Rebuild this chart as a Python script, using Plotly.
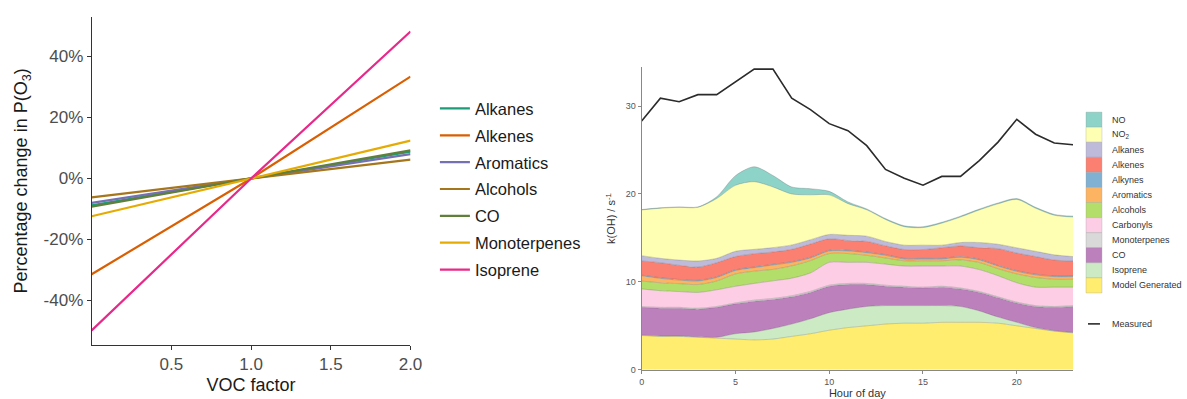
import plotly.graph_objects as go

W, H = 1187, 399
S = 0.991  # layout scale used for pixel placement of panels and legends

# ---------------- Left panel: P(O3) sensitivity to VOC scaling ----------------
voc_factor = [0.0, 1.0, 2.0]
voc_groups = ["Alkanes", "Alkenes", "Aromatics", "Alcohols", "CO", "Monoterpenes", "Isoprene"]
voc_colors = ["#1B9E77", "#D95F02", "#7570B3", "#A6761D", "#5F7F3A", "#E6AB02", "#E7298A"]
pct_alkanes = [-8.8, 0.0, 8.8]
pct_alkenes = [-31.4, 0.0, 33.4]
pct_aromatics = [-8.0, 0.0, 8.0]
pct_alcohols = [-6.2, 0.0, 6.2]
pct_co = [-9.2, 0.0, 9.2]
pct_monoterpenes = [-12.4, 0.0, 12.4]
pct_isoprene = [-49.8, 0.0, 48.2]
pct_series = [pct_alkanes, pct_alkenes, pct_aromatics, pct_alcohols,
              pct_co, pct_monoterpenes, pct_isoprene]
pct_ticks = [-40, -20, 0, 20, 40]
pct_ticktext = ["-40%", "-20%", "0%", "20%", "40%"]
voc_ticks = [0.5, 1.0, 1.5, 2.0]
voc_ticktext = ["0.5", "1.0", "1.5", "2.0"]

# ---------------- Right panel: OH reactivity by hour of day ----------------
hours = list(range(24))
measured = [28.3, 30.9, 30.5, 31.3, 31.3, 32.8, 34.2, 34.2, 30.9, 29.6, 28.0, 27.2,
            25.5, 22.8, 21.8, 21.0, 22.0, 22.0, 23.8, 25.9, 28.5, 26.8, 25.8, 25.6]
species = ["NO", "NO<sub>2</sub>", "Alkanes", "Alkenes", "Alkynes", "Aromatics", "Alcohols",
           "Carbonyls", "Monoterpenes", "CO", "Isoprene", "Model Generated"]
species_colors = ["#8DD3C7", "#FFFFB3", "#BEBADA", "#FB8072", "#80B1D3", "#FDB462",
                  "#B3DE69", "#FCCDE5", "#D9D9D9", "#BC80BD", "#CCEBC5", "#FFED6F"]
k_no = [0.05, 0.05, 0.05, 0.05, 0.2, 1.1, 1.7, 1.3, 0.8, 0.7, 0.4, 0.2,
        0.1, 0.1, 0.1, 0.1, 0.1, 0.1, 0.1, 0.1, 0.1, 0.1, 0.1, 0.1]
k_no2 = [5.2, 5.7, 6.0, 6.1, 6.8, 7.5, 7.7, 6.9, 5.8, 5.1, 4.5, 3.6,
         3.0, 2.5, 2.1, 2.0, 2.5, 2.9, 3.7, 4.6, 5.5, 4.9, 4.5, 4.5]
k_alkanes = [0.6, 0.5, 0.6, 0.7, 0.5, 0.6, 0.5, 0.5, 0.5, 0.5, 0.5, 0.6,
             0.6, 0.5, 0.5, 0.5, 0.3, 0.4, 0.6, 0.5, 0.6, 0.6, 0.6, 0.5]
k_alkenes = [1.6, 1.7, 1.6, 1.5, 1.6, 1.5, 1.5, 1.4, 1.4, 1.5, 1.3, 1.1,
             1.2, 1.0, 1.0, 1.0, 1.2, 1.2, 1.3, 1.9, 2.0, 2.0, 1.8, 1.7]
k_alkynes = [0.08, 0.08, 0.08, 0.08, 0.08, 0.08, 0.08, 0.08, 0.08, 0.08, 0.08, 0.08,
             0.08, 0.08, 0.08, 0.08, 0.08, 0.08, 0.08, 0.08, 0.08, 0.08, 0.08, 0.08]
k_aromatics = [0.6, 0.5, 0.4, 0.4, 0.4, 0.4, 0.4, 0.5, 0.4, 0.3, 0.3, 0.3,
               0.3, 0.3, 0.2, 0.2, 0.2, 0.3, 0.3, 0.3, 0.3, 0.3, 0.3, 0.3]
k_alcohols = [0.9, 0.9, 0.9, 0.9, 1.0, 1.4, 1.4, 1.3, 1.4, 1.4, 1.0, 1.0,
              0.8, 0.7, 0.6, 0.6, 0.6, 0.7, 0.8, 0.8, 1.0, 1.1, 0.9, 0.9]
k_carbonyls = [2.0, 1.9, 1.8, 1.8, 1.9, 1.9, 1.9, 2.0, 2.0, 2.1, 2.6, 2.4,
               2.4, 2.4, 2.3, 2.4, 2.3, 2.5, 2.5, 2.4, 2.2, 2.1, 2.2, 2.1]
k_monoterpenes = [0.1, 0.1, 0.1, 0.1, 0.1, 0.1, 0.12, 0.12, 0.12, 0.12, 0.12, 0.12,
                  0.12, 0.12, 0.1, 0.1, 0.1, 0.1, 0.1, 0.1, 0.1, 0.1, 0.1, 0.1]
k_co = [3.15, 3.15, 3.15, 3.15, 3.4, 3.4, 3.5, 3.3, 3.1, 3.0, 3.0, 2.8,
        2.5, 2.2, 2.1, 2.0, 2.1, 2.0, 2.1, 2.2, 2.2, 2.4, 2.65, 2.95]
k_isoprene = [0.05, 0.05, 0.05, 0.05, 0.1, 0.6, 0.9, 1.2, 1.4, 1.7, 2.0, 2.1,
              2.2, 2.1, 2.0, 2.0, 1.9, 1.8, 1.3, 0.7, 0.4, 0.1, 0.05, 0.05]
k_model = [3.9, 3.8, 3.8, 3.7, 3.6, 3.5, 3.4, 3.5, 3.8, 4.1, 4.5, 4.8,
           5.0, 5.2, 5.3, 5.3, 5.4, 5.4, 5.4, 5.3, 5.0, 4.7, 4.4, 4.2]
k_series = [k_no, k_no2, k_alkanes, k_alkenes, k_alkynes, k_aromatics, k_alcohols,
            k_carbonyls, k_monoterpenes, k_co, k_isoprene, k_model]
hour_ticks = [0, 5, 10, 15, 20]
k_ticks = [0, 10, 20, 30]


def fx(x):
    return x / (W * S)


def fy(y):
    return 1 - y / (H * S)


FONT = "Liberation Sans, Arial, sans-serif"
fig = go.Figure()

# Left panel lines
for i, (name, color, vals) in enumerate(zip(voc_groups, voc_colors, pct_series)):
    fig.add_trace(go.Scatter(
        x=voc_factor, y=vals, mode="lines", name=name,
        line=dict(color=color, width=2.2),
        xaxis="x", yaxis="y", legendgroup=f"g{i}", legend="legend",
    ))

# Right panel stacked areas, bottom layer first
for name, color, vals in reversed(list(zip(species, species_colors, k_series))):
    fig.add_trace(go.Scatter(
        x=hours, y=vals, mode="lines", name=name, stackgroup="k",
        line=dict(color="rgba(90,90,90,0.45)", width=0.6, shape="spline", smoothing=0.8),
        fillcolor=color, xaxis="x2", yaxis="y2", showlegend=False,
    ))

fig.add_trace(go.Scatter(
    x=hours, y=measured, mode="lines", name="Measured",
    line=dict(color="#2b2b2b", width=1.6), xaxis="x2", yaxis="y2", showlegend=False,
))

# Right panel legend: colour swatches and labels
leg_top, leg_step = 120.7, 15.2
shapes = []
annotations = []
for i, (name, color) in enumerate(zip(species, species_colors)):
    yc = leg_top + i * leg_step
    shapes.append(dict(type="rect", xref="paper", yref="paper",
                       x0=fx(1087), x1=fx(1103),
                       y0=fy(yc + leg_step / 2), y1=fy(yc - leg_step / 2),
                       fillcolor=color, line=dict(color="rgba(150,150,150,0.6)", width=0.5)))
    annotations.append(dict(text=name, xref="paper", yref="paper",
                            x=fx(1111), y=fy(yc), xanchor="left", yanchor="middle",
                            showarrow=False, font=dict(family=FONT, size=9, color="#333")))
ym = 326.7
shapes.append(dict(type="line", xref="paper", yref="paper",
                   x0=fx(1089), x1=fx(1101), y0=fy(ym), y1=fy(ym),
                   line=dict(color="#2b2b2b", width=1.6)))
annotations.append(dict(text="Measured", xref="paper", yref="paper",
                        x=fx(1111), y=fy(ym), xanchor="left", yanchor="middle",
                        showarrow=False, font=dict(family=FONT, size=9, color="#333")))

fig.update_layout(
    width=W, height=H,
    margin=dict(l=0, r=0, t=0, b=0),
    paper_bgcolor="white", plot_bgcolor="white",
    font=dict(family=FONT, color="#222"),
    shapes=shapes, annotations=annotations,
    legend=dict(x=fx(433.5), y=fy(92), xanchor="left", yanchor="top",
                font=dict(family=FONT, size=16.5, color="#1a1a1a"),
                tracegroupgap=2.4, bgcolor="rgba(0,0,0,0)"),
    xaxis=dict(domain=[fx(89), fx(409)], range=[0, 2.0],
               tickvals=voc_ticks, ticktext=voc_ticktext,
               showline=True, linecolor="#333", linewidth=1,
               ticks="outside", ticklen=4, tickcolor="#333",
               showgrid=False, zeroline=False, anchor="y",
               tickfont=dict(size=17, color="#4d4d4d"),
               title=dict(text="VOC factor", font=dict(size=18, color="#1a1a1a"), standoff=5)),
    yaxis=dict(domain=[fy(348), fy(17)], range=[-54.6, 53.0],
               tickvals=pct_ticks, ticktext=pct_ticktext,
               showline=True, linecolor="#333", linewidth=1,
               ticks="outside", ticklen=4, tickcolor="#333",
               showgrid=False, zeroline=False, anchor="x",
               tickfont=dict(size=17, color="#4d4d4d"),
               title=dict(text="Percentage change in P(O<sub>3</sub>)",
                          font=dict(size=18, color="#1a1a1a"), standoff=11)),
    xaxis2=dict(domain=[fx(641), fx(1074)], range=[0, 23],
                tickvals=hour_ticks,
                showline=True, linecolor="#888", linewidth=1,
                ticks="outside", ticklen=3, tickcolor="#888",
                showgrid=False, zeroline=False, anchor="y2",
                tickfont=dict(size=9, color="#555"),
                title=dict(text="Hour of day", font=dict(size=11, color="#333"), standoff=5)),
    yaxis2=dict(domain=[fy(373), fy(68)], range=[0, 34.4],
                tickvals=k_ticks,
                showline=True, linecolor="#888", linewidth=1,
                ticks="outside", ticklen=3, tickcolor="#888",
                showgrid=False, zeroline=False, anchor="x2",
                tickfont=dict(size=9, color="#555"),
                title=dict(text="k(OH) / s<sup>-1</sup>", font=dict(size=11, color="#333"),
                           standoff=7)),
)

fig.write_html("out.html")
